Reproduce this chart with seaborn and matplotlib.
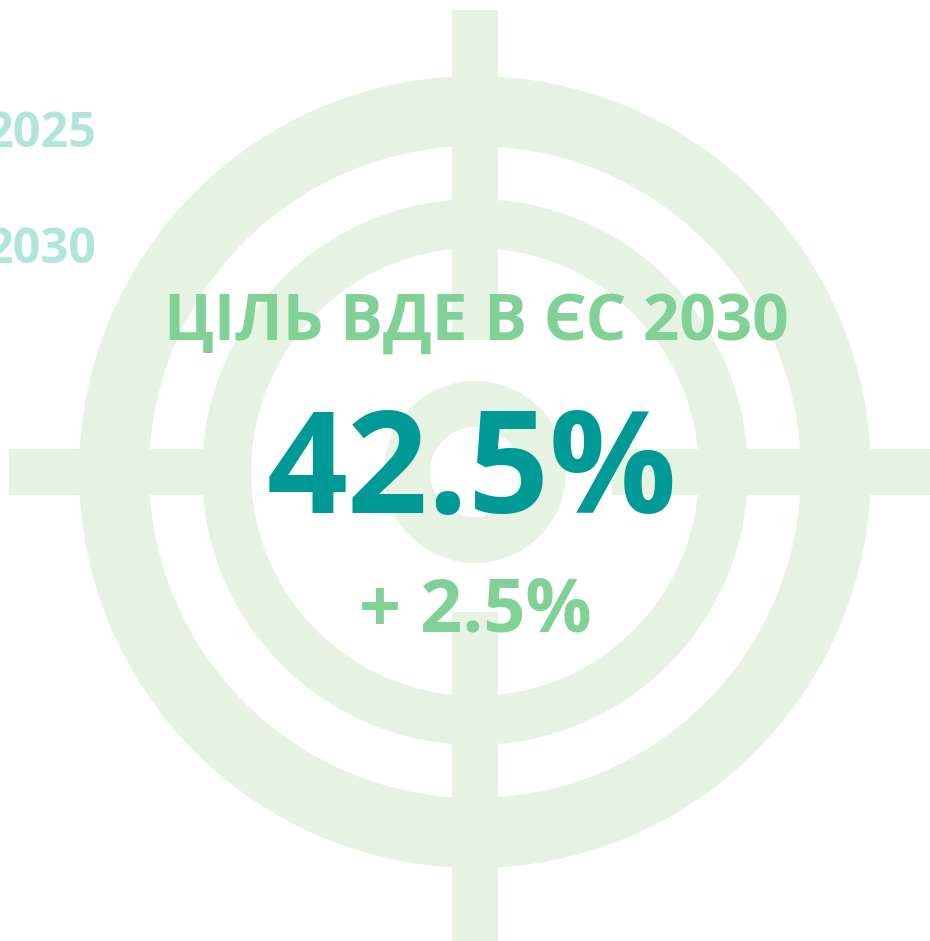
import matplotlib.pyplot as plt
import matplotlib.patches as mpatches
import seaborn as sns

# data
years = ["2025", "2030"]
title = "ЦІЛЬ ВДЕ В ЄС 2030"
target_share = 42.5
target_extra = 2.5

# colours
c_target = "#e6f3e2"
c_title = "#7fd195"
c_big = "#009a96"
c_years = "#b2e5da"

sns.set_theme(style="white")
plt.rcParams["font.family"] = ["Open Sans", "DejaVu Sans"]

fig = plt.figure(figsize=(9.3, 9.41), dpi=100)
ax = fig.add_axes([0, 0, 1, 1])
ax.set_xlim(0, 930)
ax.set_ylim(941, 0)
ax.set_aspect("equal")
ax.axis("off")

cx, cy = 475, 472

# target rings (outer radius, width)
for r_out, w in [(396, 70), (273, 49), (91, 46)]:
    ax.add_patch(mpatches.Wedge((cx, cy), r_out, 0, 360, width=w,
                                facecolor=c_target, edgecolor="none", zorder=1))

# crosshair pieces
bar_w = 46
for x0, x1 in [(9, 250), (612, 930)]:
    ax.add_patch(mpatches.Rectangle((x0, cy - bar_w / 2), x1 - x0, bar_w,
                                    facecolor=c_target, edgecolor="none", zorder=1))
for y0, y1 in [(10, 340), (612, 941)]:
    ax.add_patch(mpatches.Rectangle((cx - bar_w / 2, y0), bar_w, y1 - y0,
                                    facecolor=c_target, edgecolor="none", zorder=1))

# year labels (cut at left edge)
for yr, y in zip(years, [147, 263]):
    ax.text(96, y, yr, ha="right", va="baseline", fontsize=35,
            fontweight="bold", color=c_years, zorder=3)

ax.text(476, 340, title, ha="center", va="baseline", fontsize=46,
        fontweight="bold", color=c_title, zorder=3)
ax.text(472, 513, f"{target_share}%", ha="center", va="baseline", fontsize=102,
        fontweight="bold", color=c_big, zorder=3)
ax.text(475, 632, f"+ {target_extra}%", ha="center", va="baseline", fontsize=53,
        fontweight="bold", color=c_title, zorder=3)

fig.savefig("out.png", dpi=100)
